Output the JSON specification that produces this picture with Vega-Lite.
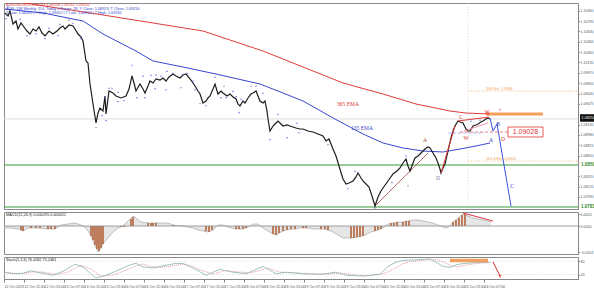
{
"$schema":"https://vega.github.io/schema/vega-lite/v6.json",
"padding":{"left":1,"top":2,"right":0,"bottom":0},
"background":"white",
"spacing":3,
"bounds":"flush",
"config":{"view":{"stroke":"#8a8a8a","strokeWidth":1},"font":"Liberation Sans"},
"resolve":{"scale":{"y":"independent","color":"independent","shape":"independent"},"axis":{"y":"independent"}},
"datasets":{
"price":[{"t":0.05,"p":1.10924},{"t":0.2,"p":1.10877},{"t":0.3,"p":1.10956},{"t":0.45,"p":1.10749},{"t":0.6,"p":1.10797},{"t":0.7,"p":1.10669},{"t":0.85,"p":1.10765},{"t":1.0,"p":1.10701},{"t":1.15,"p":1.10637},{"t":1.3,"p":1.10589},{"t":1.45,"p":1.10669},{"t":1.6,"p":1.10637},{"t":1.75,"p":1.10701},{"t":1.9,"p":1.10605},{"t":2.05,"p":1.10558},{"t":2.25,"p":1.10637},{"t":2.45,"p":1.10589},{"t":2.65,"p":1.10637},{"t":2.8,"p":1.10685},{"t":2.95,"p":1.10717},{"t":3.05,"p":1.10669},{"t":3.25,"p":1.10733},{"t":3.45,"p":1.10717},{"t":3.55,"p":1.10669},{"t":3.7,"p":1.10589},{"t":3.85,"p":1.10542},{"t":3.95,"p":1.10478},{"t":4.1,"p":1.10159},{"t":4.2,"p":1.10127},{"t":4.3,"p":1.09792},{"t":4.45,"p":1.09473},{"t":4.6,"p":1.0917},{"t":4.7,"p":1.09329},{"t":4.8,"p":1.09409},{"t":4.95,"p":1.09361},{"t":5.05,"p":1.09601},{"t":5.1,"p":1.09313},{"t":5.25,"p":1.0968},{"t":5.45,"p":1.09648},{"t":5.6,"p":1.09601},{"t":5.85,"p":1.09569},{"t":6.1,"p":1.09601},{"t":6.25,"p":1.09712},{"t":6.4,"p":1.0992},{"t":6.5,"p":1.09808},{"t":6.6,"p":1.0968},{"t":6.8,"p":1.09792},{"t":6.95,"p":1.09712},{"t":7.05,"p":1.09648},{"t":7.2,"p":1.0976},{"t":7.3,"p":1.0984},{"t":7.45,"p":1.09808},{"t":7.6,"p":1.09872},{"t":7.8,"p":1.09856},{"t":7.95,"p":1.09888},{"t":8.1,"p":1.0984},{"t":8.25,"p":1.09904},{"t":8.45,"p":1.09951},{"t":8.6,"p":1.0992},{"t":8.8,"p":1.09888},{"t":8.95,"p":1.09936},{"t":9.1,"p":1.09951},{"t":9.3,"p":1.09872},{"t":9.45,"p":1.09808},{"t":9.55,"p":1.0976},{"t":9.7,"p":1.0968},{"t":9.8,"p":1.09632},{"t":9.95,"p":1.09489},{"t":10.1,"p":1.09521},{"t":10.2,"p":1.09569},{"t":10.3,"p":1.09601},{"t":10.45,"p":1.09712},{"t":10.55,"p":1.09792},{"t":10.7,"p":1.09632},{"t":10.85,"p":1.0968},{"t":10.95,"p":1.09648},{"t":11.15,"p":1.09601},{"t":11.3,"p":1.09632},{"t":11.45,"p":1.09585},{"t":11.6,"p":1.09553},{"t":11.7,"p":1.09473},{"t":11.8,"p":1.09441},{"t":11.95,"p":1.09521},{"t":12.05,"p":1.09489},{"t":12.2,"p":1.09569},{"t":12.35,"p":1.09632},{"t":12.45,"p":1.09648},{"t":12.6,"p":1.0968},{"t":12.7,"p":1.09601},{"t":12.8,"p":1.09521},{"t":12.95,"p":1.09489},{"t":13.05,"p":1.09521},{"t":13.15,"p":1.09361},{"t":13.2,"p":1.09234},{"t":13.3,"p":1.09042},{"t":13.45,"p":1.09122},{"t":13.6,"p":1.0917},{"t":13.7,"p":1.09202},{"t":13.85,"p":1.09154},{"t":13.95,"p":1.09122},{"t":14.15,"p":1.09138},{"t":14.3,"p":1.09122},{"t":14.45,"p":1.09106},{"t":14.6,"p":1.0909},{"t":14.8,"p":1.09074},{"t":14.95,"p":1.09074},{"t":15.2,"p":1.09042},{"t":15.45,"p":1.09026},{"t":15.7,"p":1.08994},{"t":15.95,"p":1.08963},{"t":16.1,"p":1.08883},{"t":16.25,"p":1.08915},{"t":16.45,"p":1.08755},{"t":16.6,"p":1.08644},{"t":16.75,"p":1.08484},{"t":16.95,"p":1.08277},{"t":17.1,"p":1.08197},{"t":17.25,"p":1.08213},{"t":17.45,"p":1.08245},{"t":17.6,"p":1.08309},{"t":17.7,"p":1.08372},{"t":17.85,"p":1.08293},{"t":17.95,"p":1.08245},{"t":18.1,"p":1.08197},{"t":18.25,"p":1.08149},{"t":18.4,"p":1.08006},{"t":18.55,"p":1.07846},{"t":18.7,"p":1.0799},{"t":18.85,"p":1.08085},{"t":18.95,"p":1.08133},{"t":19.2,"p":1.08245},{"t":19.45,"p":1.08356},{"t":19.65,"p":1.08404},{"t":19.8,"p":1.08452},{"t":19.95,"p":1.08532},{"t":20.1,"p":1.08596},{"t":20.2,"p":1.08484},{"t":20.3,"p":1.08404},{"t":20.45,"p":1.08532},{"t":20.55,"p":1.08612},{"t":20.7,"p":1.08644},{"t":20.8,"p":1.08675},{"t":20.95,"p":1.08723},{"t":21.05,"p":1.08755},{"t":21.2,"p":1.08787},{"t":21.3,"p":1.08771},{"t":21.45,"p":1.08691},{"t":21.6,"p":1.08612},{"t":21.7,"p":1.08532},{"t":21.8,"p":1.08436},{"t":21.85,"p":1.08372},{"t":21.95,"p":1.08452},{"t":22.05,"p":1.08516},{"t":22.2,"p":1.08723},{"t":22.35,"p":1.08931},{"t":22.45,"p":1.09042},{"t":22.55,"p":1.09122},{"t":22.7,"p":1.09202},{"t":22.8,"p":1.09186},{"t":22.95,"p":1.0917},{"t":23.1,"p":1.09074},{"t":23.2,"p":1.09042},{"t":23.3,"p":1.09042},{"t":23.45,"p":1.09122},{"t":23.6,"p":1.09138},{"t":23.7,"p":1.09154},{"t":23.85,"p":1.09186},{"t":23.95,"p":1.09202},{"t":24.1,"p":1.09234},{"t":24.2,"p":1.0925},{"t":24.3,"p":1.09234}],
"ema365":[{"t":0.7,"p":1.111},{"t":4.95,"p":1.10893},{"t":9.95,"p":1.10637},{"t":12.95,"p":1.10318},{"t":14.95,"p":1.10063},{"t":16.95,"p":1.09808},{"t":18.95,"p":1.09632},{"t":20.6,"p":1.09473},{"t":22.3,"p":1.09361},{"t":23.1,"p":1.09329},{"t":24.3,"p":1.09313}],
"ema135":[{"t":0.05,"p":1.10988},{"t":1.95,"p":1.10924},{"t":3.95,"p":1.10797},{"t":4.95,"p":1.10589},{"t":6.6,"p":1.10318},{"t":7.45,"p":1.10159},{"t":8.95,"p":1.10063},{"t":10.6,"p":1.09951},{"t":12.8,"p":1.09792},{"t":13.95,"p":1.09648},{"t":14.95,"p":1.09521},{"t":16.45,"p":1.0925},{"t":17.95,"p":1.08994},{"t":18.95,"p":1.08851},{"t":19.95,"p":1.08771},{"t":20.95,"p":1.08723},{"t":21.95,"p":1.08707},{"t":22.8,"p":1.08755},{"t":23.6,"p":1.08803},{"t":24.3,"p":1.08851}],
"fr":[{"t":0.2,"p":1.11036,"d":"u"},{"t":0.8,"p":1.10829,"d":"u"},{"t":2.25,"p":1.10685,"d":"u"},{"t":2.8,"p":1.10749,"d":"u"},{"t":3.25,"p":1.10813,"d":"u"},{"t":3.45,"p":1.10765,"d":"u"},{"t":5.05,"p":1.09585,"d":"u"},{"t":5.25,"p":1.09728,"d":"u"},{"t":5.4,"p":1.09728,"d":"u"},{"t":5.7,"p":1.09664,"d":"u"},{"t":6.4,"p":1.10095,"d":"u"},{"t":6.95,"p":1.0992,"d":"u"},{"t":7.35,"p":1.09936,"d":"u"},{"t":7.6,"p":1.09936,"d":"u"},{"t":7.85,"p":1.0992,"d":"u"},{"t":8.15,"p":1.09999,"d":"u"},{"t":8.45,"p":1.09967,"d":"u"},{"t":8.95,"p":1.09951,"d":"u"},{"t":9.15,"p":1.09967,"d":"u"},{"t":9.45,"p":1.0984,"d":"u"},{"t":10.55,"p":1.09904,"d":"u"},{"t":11.0,"p":1.0976,"d":"u"},{"t":11.45,"p":1.0968,"d":"u"},{"t":11.85,"p":1.09553,"d":"u"},{"t":12.35,"p":1.0976,"d":"u"},{"t":12.6,"p":1.0976,"d":"u"},{"t":12.95,"p":1.09648,"d":"u"},{"t":13.7,"p":1.09313,"d":"u"},{"t":14.65,"p":1.0917,"d":"u"},{"t":17.55,"p":1.08404,"d":"u"},{"t":20.1,"p":1.08644,"d":"u"},{"t":23.35,"p":1.09202,"d":"u"},{"t":23.8,"p":1.09218,"d":"u"},{"t":0.1,"p":1.10829,"d":"n"},{"t":1.15,"p":1.10558,"d":"n"},{"t":1.6,"p":1.10589,"d":"n"},{"t":2.05,"p":1.1051,"d":"n"},{"t":2.7,"p":1.10558,"d":"n"},{"t":3.85,"p":1.1051,"d":"n"},{"t":4.6,"p":1.0909,"d":"n"},{"t":4.9,"p":1.09282,"d":"n"},{"t":5.1,"p":1.09202,"d":"n"},{"t":5.7,"p":1.09505,"d":"n"},{"t":6.0,"p":1.09521,"d":"n"},{"t":6.65,"p":1.09569,"d":"n"},{"t":7.05,"p":1.09569,"d":"n"},{"t":7.55,"p":1.09712,"d":"n"},{"t":8.1,"p":1.09696,"d":"n"},{"t":8.85,"p":1.09728,"d":"n"},{"t":9.55,"p":1.09696,"d":"n"},{"t":9.8,"p":1.09473,"d":"n"},{"t":10.1,"p":1.09441,"d":"n"},{"t":10.85,"p":1.09569,"d":"n"},{"t":11.1,"p":1.09569,"d":"n"},{"t":11.6,"p":1.09585,"d":"n"},{"t":11.75,"p":1.09329,"d":"n"},{"t":13.3,"p":1.08899,"d":"n"},{"t":14.15,"p":1.08931,"d":"n"},{"t":14.75,"p":1.0901,"d":"n"},{"t":16.2,"p":1.08819,"d":"n"},{"t":17.2,"p":1.08117,"d":"n"},{"t":18.55,"p":1.0781,"d":"n"},{"t":19.4,"p":1.08213,"d":"n"},{"t":20.2,"p":1.08165,"d":"n"}],
"segs":[{"g":"vert","t":23.2,"p":1.0781,"t2":23.2,"p2":1.1108},{"g":"bid","t":0,"p":1.09234,"t2":28.8,"p2":1.09234},{"g":"green","t":0,"p":1.085,"t2":28.8,"p2":1.085},{"g":"green","t":0,"p":1.0783,"t2":28.8,"p2":1.0783},{"g":"odot","t":23.2,"p":1.0968,"t2":28.8,"p2":1.0968},{"g":"odot","t":23.2,"p":1.08564,"t2":28.8,"p2":1.08564},{"g":"obar","t":24.1,"p":1.09313,"t2":26.95,"p2":1.09313},{"g":"rdash","t":22.8,"p":1.09026,"t2":25.2,"p2":1.09026},{"g":"bdash","t":22.2,"p":1.0901,"t2":24.0,"p2":1.0901},{"g":"trend","t":18.55,"p":1.07846,"t2":21.2,"p2":1.08691},{"g":"wave","t":21.85,"p":1.08372,"t2":22.55,"p2":1.09122},{"g":"wave","t":22.7,"p":1.09202,"t2":24.25,"p2":1.09265},{"g":"pink","t":23.0,"p":1.09042,"t2":24.2,"p2":1.0917},{"g":"proj","t":24.3,"p":1.0925,"t2":24.45,"p2":1.09042},{"g":"proj","t":24.45,"p":1.09042,"t2":24.65,"p2":1.09154},{"g":"proj","t":24.65,"p":1.09154,"t2":25.35,"p2":1.07846}],
"lbl":[{"g":"red","t":17.2,"p":1.09473,"s":"365 EMA"},{"g":"blue","t":17.9,"p":1.0909,"s":"135 EMA"},{"g":"blue","t":24.35,"p":1.08899,"s":"A"},{"g":"blue","t":24.7,"p":1.09154,"s":"B"},{"g":"blue","t":25.4,"p":1.08165,"s":"C"},{"g":"gray","t":21.7,"p":1.08293,"s":"D"},{"g":"brown","t":21.05,"p":1.08899,"s":"A"},{"g":"red","t":22.85,"p":1.09265,"s":"C"},{"g":"red","t":24.15,"p":1.09345,"s":"W"},{"g":"red","t":24.8,"p":1.09377,"s":"×"},{"g":"red","t":24.95,"p":1.08915,"s":"D"},{"g":"red","t":23.1,"p":1.08931,"s":"W"}],
"olbl":[{"t":24.1,"p":1.09715,"s":"100 Ext: 1.0968"},{"t":24.1,"p":1.086,"s":"161.8 Ext: 1.0856"}],
"info":[{"g":"k","t":0.1,"p":1.11045,"s":"EURUSD,M15  1.09243 1.09256 1.09231 1.09250"},{"g":"b","t":0.1,"p":1.10985,"s":"ADR: 136   Weekly: 114, Today's Range: 28, Y Close: 1.08923, T Close: 1.09250"},{"g":"b","t":0.1,"p":1.10925,"s":"Y Low: 1.08561 | Y High: 1.09052 | T Low: 1.08954 | T High: 1.09265"}],
"rbox":[{"t":25.2,"p":1.08947,"t2":26.95,"p2":1.09106}],
"rtxt":[{"t":26.07,"p":1.09026,"s":"1.09028"}],
"wbox":[{"t":28.82,"p":1.08455,"t2":29.8,"p2":1.08545},{"t":28.82,"p":1.07785,"t2":29.8,"p2":1.07875}],
"gtxt":[{"t":28.85,"p":1.085,"s":"1.0850"},{"t":28.85,"p":1.0783,"s":"1.0783"}],
"kbox":[{"t":28.8,"p":1.0919,"t2":29.8,"p2":1.0931}],
"ktxt":[{"t":28.88,"p":1.0925,"s":"1.09250"}],
"macd":[{"t":0,"v":-0.0004},{"t":0.35,"v":-0.0004},{"t":0.7,"v":-0.0006},{"t":0.95,"v":-0.001},{"t":1.2,"v":-0.0004},{"t":1.7,"v":-0.0004},{"t":2.2,"v":-0.0006},{"t":2.55,"v":-0.0006},{"t":2.85,"v":0.0002},{"t":3.2,"v":0.0004},{"t":3.55,"v":0.0006},{"t":3.85,"v":0.0002},{"t":4.1,"v":-0.0004},{"t":4.3,"v":-0.0016},{"t":4.45,"v":-0.003},{"t":4.6,"v":-0.0044},{"t":4.7,"v":-0.0052},{"t":4.8,"v":-0.0048},{"t":4.95,"v":-0.0036},{"t":5.2,"v":-0.0024},{"t":5.45,"v":-0.0012},{"t":5.7,"v":-0.0004},{"t":5.95,"v":0},{"t":6.15,"v":0.0008},{"t":6.35,"v":0.0016},{"t":6.5,"v":0.002},{"t":6.65,"v":0.0014},{"t":6.85,"v":0.0008},{"t":7.2,"v":0.0006},{"t":7.7,"v":0.0006},{"t":8.2,"v":0.0006},{"t":8.45,"v":0.0002},{"t":8.95,"v":0},{"t":9.45,"v":-0.0004},{"t":9.7,"v":-0.0008},{"t":9.95,"v":-0.001},{"t":10.2,"v":-0.0012},{"t":10.45,"v":-0.0008},{"t":10.7,"v":0.0002},{"t":10.95,"v":0.0002},{"t":11.2,"v":-0.0002},{"t":11.55,"v":-0.0006},{"t":11.95,"v":-0.0006},{"t":12.2,"v":-0.0002},{"t":12.45,"v":0.0004},{"t":12.7,"v":0.0004},{"t":12.95,"v":-0.0004},{"t":13.2,"v":-0.001},{"t":13.45,"v":-0.0016},{"t":13.6,"v":-0.0018},{"t":13.85,"v":-0.0012},{"t":14.1,"v":-0.0008},{"t":14.45,"v":-0.0006},{"t":14.85,"v":-0.0004},{"t":15.2,"v":-0.0004},{"t":15.55,"v":-0.0006},{"t":15.95,"v":-0.0006},{"t":16.35,"v":-0.001},{"t":16.7,"v":-0.0018},{"t":16.95,"v":-0.0024},{"t":17.35,"v":-0.0024},{"t":17.7,"v":-0.0022},{"t":18.05,"v":-0.0018},{"t":18.35,"v":-0.0012},{"t":18.7,"v":-0.0008},{"t":18.95,"v":-0.0004},{"t":19.2,"v":0.0004},{"t":19.45,"v":0.0006},{"t":19.7,"v":0.0008},{"t":19.95,"v":0.0008},{"t":20.2,"v":0.001},{"t":20.45,"v":0.0012},{"t":20.7,"v":0.0012},{"t":20.95,"v":0.001},{"t":21.2,"v":0.0008},{"t":21.45,"v":0.0006},{"t":21.7,"v":0.0002},{"t":21.95,"v":-0.0002},{"t":22.1,"v":-0.0004},{"t":22.3,"v":0},{"t":22.45,"v":0.0008},{"t":22.7,"v":0.0016},{"t":22.95,"v":0.0024},{"t":23.2,"v":0.002},{"t":23.45,"v":0.0016},{"t":23.7,"v":0.0014},{"t":23.95,"v":0.0012},{"t":24.2,"v":0.001},{"t":24.35,"v":0.0008}],
"hist":[{"t":0.85,"v":-0.0008},{"t":0.95,"v":-0.001},{"t":1.35,"v":-0.0004},{"t":1.6,"v":-0.0004},{"t":1.8,"v":-0.0004},{"t":2.2,"v":-0.0006},{"t":2.35,"v":-0.0006},{"t":2.55,"v":-0.0006},{"t":4.35,"v":-0.002},{"t":4.45,"v":-0.0028},{"t":4.55,"v":-0.0038},{"t":4.65,"v":-0.0046},{"t":4.75,"v":-0.005},{"t":4.85,"v":-0.0044},{"t":4.95,"v":-0.0036},{"t":5.85,"v":-0.0002},{"t":6.0,"v":-0.0002},{"t":6.35,"v":0.0014},{"t":6.45,"v":0.0018},{"t":7.2,"v":0.0006},{"t":7.35,"v":0.0006},{"t":7.45,"v":0.0006},{"t":7.6,"v":0.0006},{"t":8.45,"v":0.0002},{"t":10.1,"v":-0.001},{"t":10.25,"v":-0.0012},{"t":10.4,"v":-0.0008},{"t":11.6,"v":-0.0006},{"t":11.75,"v":-0.0006},{"t":11.95,"v":-0.0006},{"t":12.1,"v":-0.0004},{"t":13.45,"v":-0.0016},{"t":13.6,"v":-0.0018},{"t":13.75,"v":-0.0014},{"t":13.95,"v":-0.001},{"t":14.15,"v":-0.0008},{"t":14.35,"v":-0.0006},{"t":14.55,"v":-0.0006},{"t":14.95,"v":-0.0004},{"t":15.1,"v":-0.0004},{"t":15.85,"v":-0.0006},{"t":16.05,"v":-0.0006},{"t":16.2,"v":-0.0008},{"t":17.35,"v":-0.0024},{"t":17.5,"v":-0.0024},{"t":17.65,"v":-0.0022},{"t":17.8,"v":-0.0022},{"t":17.95,"v":-0.002},{"t":18.55,"v":-0.001},{"t":18.7,"v":-0.0008},{"t":18.85,"v":-0.0006},{"t":19.35,"v":0.0006},{"t":19.5,"v":0.0006},{"t":19.65,"v":0.0008},{"t":19.95,"v":0.0008},{"t":20.1,"v":0.001},{"t":20.25,"v":0.001},{"t":22.45,"v":0.0008},{"t":22.6,"v":0.0012},{"t":22.75,"v":0.0016},{"t":22.9,"v":0.0022},{"t":23.05,"v":0.0024}],
"mseg":[{"t":22.95,"v":0.0026,"t2":24.45,"v2":0.001}],
"mtxt":[{"t":0.1,"v":0.0022,"s":"MACD(12,26,9) 0.000295 0.000412"}],
"stk":[{"t":0,"v":31},{"t":0.45,"v":24},{"t":0.95,"v":26},{"t":1.35,"v":37},{"t":1.7,"v":30},{"t":2.45,"v":17},{"t":2.95,"v":35},{"t":3.55,"v":67},{"t":3.95,"v":55},{"t":4.6,"v":4},{"t":5.2,"v":20},{"t":5.7,"v":40},{"t":6.3,"v":64},{"t":6.6,"v":71},{"t":6.95,"v":55},{"t":7.45,"v":50},{"t":7.95,"v":60},{"t":8.6,"v":71},{"t":8.95,"v":70},{"t":9.45,"v":50},{"t":10.1,"v":17},{"t":10.8,"v":44},{"t":11.45,"v":31},{"t":12.1,"v":24},{"t":12.95,"v":57},{"t":13.6,"v":24},{"t":14.1,"v":31},{"t":14.95,"v":24},{"t":15.8,"v":21},{"t":16.6,"v":31},{"t":17.1,"v":17},{"t":17.95,"v":13},{"t":18.8,"v":21},{"t":19.2,"v":57},{"t":19.6,"v":77},{"t":19.95,"v":84},{"t":20.8,"v":88},{"t":21.3,"v":91},{"t":21.6,"v":77},{"t":21.95,"v":57},{"t":22.3,"v":53},{"t":22.6,"v":64},{"t":22.95,"v":70},{"t":23.45,"v":74},{"t":23.95,"v":76},{"t":24.3,"v":76}],
"std":[{"t":0,"v":28},{"t":0.45,"v":27},{"t":0.95,"v":24},{"t":1.45,"v":33},{"t":1.95,"v":31},{"t":2.7,"v":20},{"t":3.2,"v":32},{"t":3.85,"v":62},{"t":4.35,"v":45},{"t":4.85,"v":12},{"t":5.45,"v":18},{"t":5.95,"v":35},{"t":6.55,"v":58},{"t":6.95,"v":68},{"t":7.3,"v":58},{"t":7.8,"v":52},{"t":8.3,"v":58},{"t":8.95,"v":68},{"t":9.35,"v":60},{"t":9.85,"v":40},{"t":10.45,"v":22},{"t":11.05,"v":38},{"t":11.7,"v":32},{"t":12.35,"v":28},{"t":13.2,"v":50},{"t":13.85,"v":30},{"t":14.45,"v":28},{"t":15.2,"v":24},{"t":16.05,"v":22},{"t":16.85,"v":27},{"t":17.45,"v":19},{"t":18.2,"v":15},{"t":19.05,"v":26},{"t":19.55,"v":48},{"t":19.95,"v":70},{"t":20.35,"v":80},{"t":21.05,"v":86},{"t":21.55,"v":89},{"t":21.95,"v":78},{"t":22.3,"v":62},{"t":22.7,"v":56},{"t":23.05,"v":62},{"t":23.55,"v":70},{"t":24.3,"v":75}],
"slev":[{"v":80},{"v":20}],
"sbox":[{"t":22.3,"v":76,"t2":24.2,"v2":92}],
"sarr":[{"t":24.45,"v":78,"t2":24.8,"v2":14}],
"shead":[{"t":24.8,"v":12}],
"stxt":[{"t":0.1,"v":88,"s":"Stoch(5,3,3) 76.4582 75.2481"}]
},
"vconcat":[
{
"width":574,"height":206,
"encoding":{
"x":{"field":"t","type":"quantitative","scale":{"domain":[0,28.7],"nice":false,"zero":false},"axis":null},
"y":{"field":"p","type":"quantitative","scale":{"domain":[1.07798,1.11084],"nice":false,"zero":false},
"axis":{"orient":"right","values":[1.0799,1.08155,1.0832,1.0865,1.08815,1.0898,1.09145,1.09475,1.0964,1.09805,1.0997,1.10135,1.103,1.10465,1.1063,1.10795,1.1096],"format":".5f","labelFontSize":3.6,"labelColor":"#555","tickSize":1.5,"tickColor":"#888","domainColor":"#888","labelPadding":0.5,"grid":false,"title":null}}
},
"layer":[
{"data":{"name":"segs"},"transform":[{"filter":"datum.g=='vert'"}],"mark":{"type":"rule","color":"#cfcfcf","strokeWidth":0.8,"strokeDash":[1,2]},"encoding":{"x2":{"field":"t2"},"y2":{"field":"p2"}}},
{"data":{"name":"segs"},"transform":[{"filter":"datum.g=='bid'"}],"mark":{"type":"rule","color":"#dedede","strokeWidth":1,"clip":true},"encoding":{"x2":{"field":"t2"},"y2":{"field":"p2"}}},
{"data":{"name":"segs"},"transform":[{"filter":"datum.g=='green'"}],"mark":{"type":"rule","color":"#3a9a3a","strokeWidth":1,"clip":true},"encoding":{"x2":{"field":"t2"},"y2":{"field":"p2"}}},
{"data":{"name":"segs"},"transform":[{"filter":"datum.g=='odot'"}],"mark":{"type":"rule","color":"#f2b36b","strokeWidth":0.8,"strokeDash":[1.2,1.5],"clip":true},"encoding":{"x2":{"field":"t2"},"y2":{"field":"p2"}}},
{"data":{"name":"segs"},"transform":[{"filter":"datum.g=='obar'"}],"mark":{"type":"rule","color":"#f3a05a","strokeWidth":3},"encoding":{"x2":{"field":"t2"},"y2":{"field":"p2"}}},
{"data":{"name":"segs"},"transform":[{"filter":"datum.g=='rdash'"}],"mark":{"type":"rule","color":"#e06060","strokeWidth":0.8,"strokeDash":[3,2]},"encoding":{"x2":{"field":"t2"},"y2":{"field":"p2"}}},
{"data":{"name":"segs"},"transform":[{"filter":"datum.g=='bdash'"}],"mark":{"type":"rule","color":"#9aa8f0","strokeWidth":0.8,"strokeDash":[3,2]},"encoding":{"x2":{"field":"t2"},"y2":{"field":"p2"}}},
{"data":{"name":"segs"},"transform":[{"filter":"datum.g=='trend'"}],"mark":{"type":"rule","color":"#a0503a","strokeWidth":0.8},"encoding":{"x2":{"field":"t2"},"y2":{"field":"p2"}}},
{"data":{"name":"ema365"},"mark":{"type":"line","color":"#e03c3c","strokeWidth":1,"clip":true},"encoding":{}},
{"data":{"name":"ema135"},"mark":{"type":"line","color":"#3a47d0","strokeWidth":1,"clip":true},"encoding":{}},
{"data":{"name":"price"},"mark":{"type":"line","color":"#1e1e1e","strokeWidth":1.2,"clip":true},"encoding":{}},
{"data":{"name":"segs"},"transform":[{"filter":"datum.g=='wave'"}],"mark":{"type":"rule","color":"#e03a3a","strokeWidth":1},"encoding":{"x2":{"field":"t2"},"y2":{"field":"p2"}}},
{"data":{"name":"segs"},"transform":[{"filter":"datum.g=='pink'"}],"mark":{"type":"rule","color":"#f08aa0","strokeWidth":0.9},"encoding":{"x2":{"field":"t2"},"y2":{"field":"p2"}}},
{"data":{"name":"segs"},"transform":[{"filter":"datum.g=='proj'"}],"mark":{"type":"rule","color":"#3a50e0","strokeWidth":1},"encoding":{"x2":{"field":"t2"},"y2":{"field":"p2"}}},
{"data":{"name":"fr"},"mark":{"type":"point","filled":true,"size":4,"color":"#5566dd","opacity":0.85},"encoding":{"shape":{"field":"d","type":"nominal","scale":{"domain":["u","n"],"range":["triangle-up","triangle-down"]},"legend":null}}},
{"data":{"name":"lbl"},"mark":{"type":"text","font":"Liberation Serif","fontSize":5.5,"align":"center","baseline":"middle"},"encoding":{"text":{"field":"s"},"color":{"field":"g","type":"nominal","scale":{"domain":["red","blue","gray","brown"],"range":["#e03030","#3344cc","#7a7a9a","#a0522d"]},"legend":null}}},
{"data":{"name":"olbl"},"mark":{"type":"text","fontSize":3.8,"align":"left","baseline":"middle","color":"#f0a050"},"encoding":{"text":{"field":"s"}}},
{"data":{"name":"info"},"mark":{"type":"text","fontSize":3.8,"align":"left","baseline":"middle"},"encoding":{"text":{"field":"s"},"color":{"field":"g","type":"nominal","scale":{"domain":["k","b"],"range":["#222222","#2a3a90"]},"legend":null}}},
{"data":{"name":"rbox"},"mark":{"type":"rect","fill":"white","stroke":"#e03030","strokeWidth":0.8},"encoding":{"x2":{"field":"t2"},"y2":{"field":"p2"}}},
{"data":{"name":"rtxt"},"mark":{"type":"text","fontSize":7,"align":"center","baseline":"middle","color":"#e03030"},"encoding":{"text":{"field":"s"}}},
{"data":{"name":"wbox"},"mark":{"type":"rect","fill":"white"},"encoding":{"x2":{"field":"t2"},"y2":{"field":"p2"}}},
{"data":{"name":"gtxt"},"mark":{"type":"text","fontSize":4.5,"fontWeight":"bold","align":"left","baseline":"middle","color":"#2e8b2e"},"encoding":{"text":{"field":"s"}}},
{"data":{"name":"kbox"},"mark":{"type":"rect","fill":"#111"},"encoding":{"x2":{"field":"t2"},"y2":{"field":"p2"}}},
{"data":{"name":"ktxt"},"mark":{"type":"text","fontSize":3.7,"align":"left","baseline":"middle","color":"white"},"encoding":{"text":{"field":"s"}}}
]
},
{
"width":574,"height":42,
"encoding":{
"x":{"field":"t","type":"quantitative","scale":{"domain":[0,28.7],"nice":false,"zero":false},"axis":null},
"y":{"field":"v","type":"quantitative","scale":{"domain":[-0.0056,0.0028],"nice":false,"zero":false},
"axis":{"orient":"right","values":[0.0024,0,-0.0052],"format":".4f","labelFontSize":3.6,"labelColor":"#555","tickSize":1.5,"tickColor":"#888","domainColor":"#888","labelPadding":0.5,"grid":false,"title":null}}
},
"layer":[
{"data":{"name":"macd"},"mark":{"type":"area","color":"#dcdcdc","line":{"color":"#9a9a9a","strokeWidth":0.6}},"encoding":{}},
{"data":{"name":"hist"},"mark":{"type":"rule","color":"#b5643c","strokeWidth":1.6},"encoding":{"y2":{"datum":0}}},
{"data":{"values":[{"v":0}]},"mark":{"type":"rule","color":"#888","strokeWidth":0.8},"encoding":{"x":null}},
{"data":{"name":"mseg"},"mark":{"type":"rule","color":"#e03040","strokeWidth":1},"encoding":{"x2":{"field":"t2"},"y2":{"field":"v2"}}},
{"data":{"name":"mtxt"},"mark":{"type":"text","fontSize":3.8,"align":"left","baseline":"middle","color":"#222"},"encoding":{"text":{"field":"s"}}}
]
},
{
"width":574,"height":22,
"encoding":{
"x":{"field":"t","type":"quantitative","scale":{"domain":[0,28.7],"nice":false,"zero":false},
"axis":{"values":[0,1,2,3,4,5,6,7,8,9,10,11,12,13,14,15,16,17,18,19,20,21,22,23,24],"labelExpr":"['12 Oct 2023','12 Oct 15:00','12 Oct 23:00','13 Oct 07:00','13 Oct 15:00','13 Oct 23:00','16 Oct 07:00','16 Oct 15:00','16 Oct 23:00','17 Oct 07:00','17 Oct 15:00','17 Oct 23:00','18 Oct 07:00','18 Oct 15:00','18 Oct 23:00','19 Oct 07:00','19 Oct 15:00','19 Oct 23:00','20 Oct 07:00','20 Oct 15:00','20 Oct 23:00','23 Oct 07:00','23 Oct 15:00','23 Oct 23:00','24 Oct 07:00'][datum.value]","labelAlign":"left","labelFontSize":3.6,"labelColor":"#555","tickSize":3,"tickColor":"#888","domainColor":"#888","labelPadding":2,"labelOverlap":false,"labelFlush":false,"grid":false,"title":null}},
"y":{"field":"v","type":"quantitative","scale":{"domain":[0,100],"nice":false},
"axis":{"orient":"right","values":[80,20],"labelFontSize":3.6,"labelColor":"#555","tickSize":1.5,"tickColor":"#888","domainColor":"#888","labelPadding":0.5,"grid":false,"title":null}}
},
"layer":[
{"data":{"name":"slev"},"mark":{"type":"rule","color":"#c8c8c8","strokeWidth":0.6,"strokeDash":[1,2]},"encoding":{"x":null}},
{"data":{"name":"std"},"mark":{"type":"line","color":"#e06a6a","strokeWidth":0.7,"strokeDash":[1,1]},"encoding":{}},
{"data":{"name":"stk"},"mark":{"type":"line","color":"#86b4b4","strokeWidth":0.8},"encoding":{}},
{"data":{"name":"sbox"},"mark":{"type":"rect","fill":"#f0a060"},"encoding":{"x2":{"field":"t2"},"y2":{"field":"v2"}}},
{"data":{"name":"sarr"},"mark":{"type":"rule","color":"#e03030","strokeWidth":1},"encoding":{"x2":{"field":"t2"},"y2":{"field":"v2"}}},
{"data":{"name":"shead"},"mark":{"type":"point","shape":"triangle-down","filled":true,"size":14,"color":"#e03030","clip":false},"encoding":{}},
{"data":{"name":"stxt"},"mark":{"type":"text","fontSize":3.8,"align":"left","baseline":"middle","color":"#222"},"encoding":{"text":{"field":"s"}}}
]
}
]
}
